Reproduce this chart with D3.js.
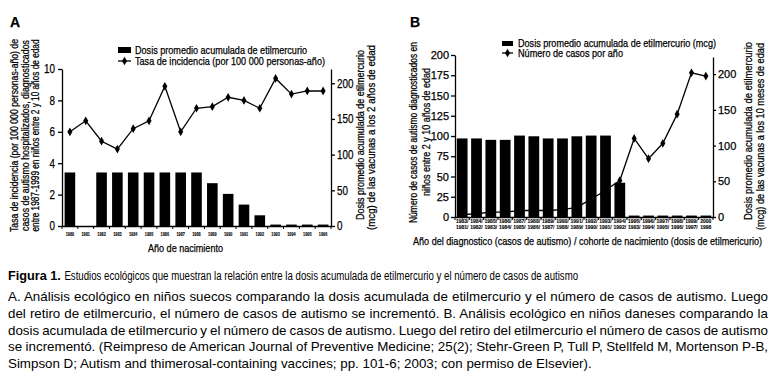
<!DOCTYPE html>
<html>
<head>
<meta charset="utf-8">
<script src="https://cdn.jsdelivr.net/npm/d3@7"></script>
<style>
  body { margin: 0; background: #fff; }
  svg { display: block; }
  text { fill: #000; }
  .chart text { stroke: #000; stroke-width: 0.25px; }
</style>
</head>
<body>
<svg id="chart" width="780" height="382"></svg>
<script>
// ---- Panel A data (Sweden) ----
const yearsA = ['1980', '1981', '1982', '1983', '1984', '1985', '1986', '1987', '1988',
  '1989', '1990', '1991', '1992', '1993', '1994', '1995', '1996'];
const doseA = [75, 0, 75, 75, 75, 75, 75, 75, 75, 60, 45, 30, 15, 2, 2, 2, 2];
const incidenceA = [6.0, 6.7, 5.4, 4.9, 6.2, 6.7, 8.9, 6.0, 7.5, 7.6, 8.2, 8.0, 7.5, 9.4, 8.4, 8.6, 8.6];
const ticksA = [0, 2, 4, 6, 8, 10];
const ticksA2 = [0, 50, 100, 150, 200];

// ---- Panel B data (Denmark) ----
const diagYearsB = ['1983', '1984', '1985', '1986', '1987', '1988', '1989', '1990', '1991',
  '1992', '1993', '1994', '1995', '1996', '1997', '1998', '1999', '2000'];
const cohortYearsB = ['1981', '1982', '1983', '1984', '1985', '1986', '1987', '1988', '1989',
  '1990', '1991', '1992', '1993', '1994', '1995', '1996', '1997', '1998'];
const doseB = [110, 110, 108, 108, 114, 113, 110, 110, 113, 114, 114, 48, 2, 2, 2, 2, 2, 2];
const casesB = [3, 4, 6, 6, 8, 8, 8, 9, 12, 22, 33, 45, 97, 72, 91, 127, 178, 174];
const ticksB = [0, 25, 50, 75, 100, 125, 150, 175, 200];
const ticksB2 = [0, 50, 100, 150, 200];

// ---- Caption ----
const captionTitle = 'Figura 1.';
const captionRest = 'Estudios ecológicos que muestran la relación entre la dosis acumulada de etilmercurio y el número de casos de autismo';
const captionLines = [
  'A. Análisis ecológico en niños suecos comparando la dosis acumulada de etilmercurio y el número de casos de autismo. Luego',
  'del retiro de etilmercurio, el número de casos de autismo se incrementó. B. Análisis ecológico en niños daneses comparando la',
  'dosis acumulada de etilmercurio y el número de casos de autismo. Luego del retiro del etilmercurio el número de casos de autismo',
  'se incrementó. (Reimpreso de American Journal of Preventive Medicine; 25(2); Stehr-Green P, Tull P, Stellfeld M, Mortenson P-B,',
  'Simpson D; Autism and thimerosal-containing vaccines; pp. 101-6; 2003; con permiso de Elsevier).'
];

// ---- fonts ----
function hasFont(name) {
  const ctx = document.createElement('canvas').getContext('2d');
  const probe = 'abcdefghijklmnop0123456789';
  ctx.font = '20px monospace';
  const a = ctx.measureText(probe).width;
  ctx.font = `20px "${name}", monospace`;
  return ctx.measureText(probe).width !== a;
}
const SANS = '"Liberation Sans", Arial, sans-serif';
const hasNarrow = hasFont('Liberation Sans Narrow');
const NARROW = hasNarrow ? '"Liberation Sans Narrow", "Arial Narrow", sans-serif' : SANS;

const root = d3.select('#chart');
root.append('rect').attr('width', 780).attr('height', 382).attr('fill', '#fff');
const svg = root.append('g').attr('class', 'chart');

// squeeze regular text when no narrow face is installed
function narrowText(sel) {
  if (hasNarrow) return;
  sel.each(function() {
    const w = this.getComputedTextLength();
    d3.select(this).attr('textLength', w * 0.82).attr('lengthAdjust', 'spacingAndGlyphs');
  });
}

// rotated axis title line
function vText(x, yc, len, size, txt) {
  svg.append('text')
    .attr('transform', `translate(${x},${yc}) rotate(-90)`)
    .attr('text-anchor', 'middle')
    .attr('font-family', NARROW)
    .attr('font-size', size)
    .attr('textLength', len)
    .attr('lengthAdjust', 'spacingAndGlyphs')
    .text(txt);
}

function hText(x, y, len, size, txt) {
  svg.append('text')
    .attr('x', x).attr('y', y)
    .attr('font-family', NARROW)
    .attr('font-size', size)
    .attr('textLength', len)
    .attr('lengthAdjust', 'spacingAndGlyphs')
    .text(txt);
}

function styleAxis(g, family, size) {
  g.attr('font-family', family).attr('font-size', size);
  g.selectAll('path, line').attr('stroke', '#000').attr('stroke-width', 1.3);
}

const diamond = d3.symbol().type(d3.symbolDiamond).size(22);

// =================== Panel A ===================
const xA = d3.scaleBand().domain(yearsA).range([62, 331]).paddingInner(0.33).paddingOuter(0.165);
const yA = d3.scaleLinear().domain([0, 10]).range([226, 69]);
const yA2 = d3.scaleLinear().domain([0, 220]).range([226, 69]);
const gA = svg.append('g');

// bars (right axis)
gA.selectAll('.barA')
  .data(yearsA.map((y, i) => ({ year: y, v: doseA[i] })).filter(d => d.v > 0))
  .enter().append('rect')
  .attr('x', d => xA(d.year))
  .attr('width', xA.bandwidth())
  .attr('y', d => yA2(d.v))
  .attr('height', d => yA2(0) - yA2(d.v))
  .attr('fill', '#000');

// incidence line (left axis)
const ptsA = yearsA.map((y, i) => ({ year: y, v: incidenceA[i] }));
gA.append('path')
  .datum(ptsA)
  .attr('fill', 'none').attr('stroke', '#000').attr('stroke-width', 1.3)
  .attr('d', d3.line().x(d => xA(d.year) + xA.bandwidth() / 2).y(d => yA(d.v)));
gA.selectAll('.ptA').data(ptsA).enter().append('path')
  .attr('d', diamond)
  .attr('transform', d => `translate(${xA(d.year) + xA.bandwidth() / 2},${yA(d.v)})`)
  .attr('fill', '#000');

// axes
const axLA = gA.append('g').attr('transform', 'translate(62,0)')
  .call(d3.axisLeft(yA).tickValues(ticksA).tickSize(4).tickPadding(3).tickSizeOuter(0));
styleAxis(axLA, NARROW, 12);
narrowText(axLA.selectAll('text'));

const axRA = gA.append('g').attr('transform', 'translate(331,0)')
  .call(d3.axisRight(yA2).tickValues(ticksA2).tickSize(4).tickPadding(2).tickSizeOuter(0));
styleAxis(axRA, NARROW, 12);
narrowText(axRA.selectAll('text'));

const axBA = gA.append('g').attr('transform', 'translate(0,226)')
  .call(d3.axisBottom(xA).tickSize(0).tickPadding(6).tickSizeOuter(0));
styleAxis(axBA, NARROW, 5);
axBA.selectAll('text').attr('font-weight', 'bold').style('stroke-width', '0.1px')
  .attr('textLength', 8.5).attr('lengthAdjust', 'spacingAndGlyphs');
// GraphPad style ticks at band boundaries
const edgesA = yearsA.map(d => xA(d) - xA.step() * xA.paddingInner() / 2)
  .concat([xA(yearsA[yearsA.length - 1]) + xA.bandwidth() + xA.step() * xA.paddingInner() / 2]);
axBA.selectAll('.edge').data(edgesA).enter().append('line')
  .attr('x1', d => d).attr('x2', d => d).attr('y1', 0).attr('y2', 3)
  .attr('stroke', '#000').attr('stroke-width', 1);

// titles
svg.append('text').attr('x', 10).attr('y', 27)
  .attr('font-family', SANS).attr('font-size', 14).attr('font-weight', 'bold').text('A');
vText(17.5, 135.5, 193, 10, 'Tasa de incidencia (por 100 000 personas-año) de');
vText(28.5, 135.5, 191, 10, 'casos de autismo hospitalizados, diagnosticados');
vText(38.5, 135.5, 192, 10, 'entre 1987-1999 en niños entre 2 y 10 años de edad');
vText(364, 135, 170, 10.5, 'Dosis promedio acumulada de etilmercurio');
vText(375, 137.5, 185, 10.5, '(mcg) de las vacunas a los 2 años de edad');
hText(148, 252, 75, 11, 'Año de nacimiento');

// legend A
svg.append('rect').attr('x', 118).attr('y', 47).attr('width', 13).attr('height', 6).attr('fill', '#000');
hText(135, 54, 172, 10.5, 'Dosis promedio acumulada de etilmercurio');
svg.append('line').attr('x1', 118).attr('x2', 131).attr('y1', 61).attr('y2', 61)
  .attr('stroke', '#000').attr('stroke-width', 1.3);
svg.append('path').attr('d', diamond).attr('transform', 'translate(124.5,61)').attr('fill', '#000');
hText(135, 65, 190, 10.5, 'Tasa de incidencia (por 100 000 personas-año)');

// =================== Panel B ===================
const catsB = diagYearsB.map((d, i) => d + '|' + cohortYearsB[i]);
const xB = d3.scaleBand().domain(catsB).range([455, 713]).paddingInner(0.25).paddingOuter(0.125);
const yB = d3.scaleLinear().domain([0, 200]).range([217, 55]);
const yB2 = d3.scaleLinear().domain([0, 224]).range([217, 57]);
const gB = svg.append('g');

// cases line first (it runs behind the bars)
const ptsB = catsB.map((c, i) => ({ cat: c, v: casesB[i] }));
gB.append('path')
  .datum(ptsB)
  .attr('fill', 'none').attr('stroke', '#000').attr('stroke-width', 1.3)
  .attr('d', d3.line().x(d => xB(d.cat) + xB.bandwidth() / 2).y(d => yB(d.v)));
gB.selectAll('.ptB').data(ptsB).enter().append('path')
  .attr('d', diamond)
  .attr('transform', d => `translate(${xB(d.cat) + xB.bandwidth() / 2},${yB(d.v)})`)
  .attr('fill', '#000');

gB.selectAll('.barB')
  .data(catsB.map((c, i) => ({ cat: c, v: doseB[i] })))
  .enter().append('rect')
  .attr('x', d => xB(d.cat))
  .attr('width', xB.bandwidth())
  .attr('y', d => yB2(d.v))
  .attr('height', d => yB2(0) - yB2(d.v))
  .attr('fill', '#000');

const axLB = gB.append('g').attr('transform', 'translate(455,0)')
  .call(d3.axisLeft(yB).tickValues(ticksB).tickSize(4).tickPadding(2).tickSizeOuter(0));
styleAxis(axLB, SANS, 11);

const axRB = gB.append('g').attr('transform', 'translate(713,0)')
  .call(d3.axisRight(yB2).tickValues(ticksB2).tickSize(3).tickPadding(2).tickSizeOuter(0));
styleAxis(axRB, SANS, 11);

const axBB = gB.append('g').attr('transform', 'translate(0,217)')
  .call(d3.axisBottom(xB).tickSize(0).tickFormat('').tickSizeOuter(0));
styleAxis(axBB, NARROW, 5);
const edgesB = catsB.map(d => xB(d) - xB.step() * xB.paddingInner() / 2)
  .concat([xB(catsB[catsB.length - 1]) + xB.bandwidth() + xB.step() * xB.paddingInner() / 2]);
axBB.selectAll('.edge').data(edgesB).enter().append('line')
  .attr('x1', d => d).attr('x2', d => d).attr('y1', 0).attr('y2', 3)
  .attr('stroke', '#000').attr('stroke-width', 1);
const lab = axBB.selectAll('.lab').data(catsB).enter().append('text')
  .attr('text-anchor', 'middle').style('stroke-width', '0.1px')
  .attr('font-family', NARROW).attr('font-size', 5).attr('font-weight', 'bold');
lab.append('tspan')
  .attr('x', d => xB(d) + xB.bandwidth() / 2).attr('y', 5.5)
  .text((d, i) => diagYearsB[i] + (i < catsB.length - 1 ? '/' : ''));
lab.append('tspan')
  .attr('x', d => xB(d) + xB.bandwidth() / 2).attr('y', 12)
  .text((d, i) => cohortYearsB[i] + (i < catsB.length - 1 ? '/' : ''));

svg.append('text').attr('x', 410).attr('y', 27)
  .attr('font-family', SANS).attr('font-size', 14).attr('font-weight', 'bold').text('B');
vText(417, 132.5, 181, 10.5, 'Número de casos de autismo diagnosticados en');
vText(430, 132, 128, 10.5, 'niños entre 2 y 10 años de edad');
vText(752, 131, 178, 10.5, 'Dosis promedio acumulada de etilmercurio');
vText(764, 136.5, 187, 10.5, '(mcg) de las vacunas a los 10 meses de edad');
hText(413, 245, 349, 11, 'Año del diagnostico (casos de autismo) / cohorte de nacimiento (dosis de etilmericurio)');

// legend B
svg.append('rect').attr('x', 502).attr('y', 41).attr('width', 11).attr('height', 5).attr('fill', '#000');
hText(518, 47, 198, 10.5, 'Dosis promedio acumulada de etilmercurio (mcg)');
svg.append('line').attr('x1', 502).attr('x2', 513).attr('y1', 53).attr('y2', 53)
  .attr('stroke', '#000').attr('stroke-width', 1.3);
svg.append('path').attr('d', diamond).attr('transform', 'translate(507.5,53)').attr('fill', '#000');
hText(518, 57, 105, 10.5, 'Número de casos por año');

// =================== Caption ===================
// bold title at natural width, rest of the line squeezed to end where the figure's does
const capSize = 12.7;
const capBold = root.append('text').attr('x', 8).attr('y', 280)
  .attr('font-family', SANS).attr('font-size', capSize).attr('font-weight', 'bold')
  .text(captionTitle);
const boldEnd = 8 + capBold.node().getComputedTextLength() + capSize * 0.28;
const restG = root.append('g');
const capRest = restG.append('text').attr('x', 0).attr('y', 0)
  .attr('font-family', NARROW).attr('font-size', 13.5).text(captionRest);
const restW = capRest.node().getComputedTextLength();
restG.attr('transform', `translate(${boldEnd},280) scale(${(579 - boldEnd) / restW},1)`);

// paragraph: fit font so the last (unjustified) line spans as in the figure, justify the rest
const probe = root.append('text').attr('font-family', SANS).attr('font-size', 13)
  .text(captionLines[captionLines.length - 1]);
const paraSize = 13 * 584 / probe.node().getComputedTextLength();
probe.remove();
const lineY = [301, 318, 335, 351, 368];
captionLines.forEach((line, i) => {
  const t = root.append('text').attr('x', 8).attr('y', lineY[i])
    .attr('font-family', SANS).attr('font-size', paraSize).text(line);
  if (i < captionLines.length - 1) {
    const w = t.node().getComputedTextLength();
    const spaces = line.split(' ').length - 1;
    t.attr('word-spacing', (760 - w) / spaces);
  }
});
</script>
</body>
</html>
